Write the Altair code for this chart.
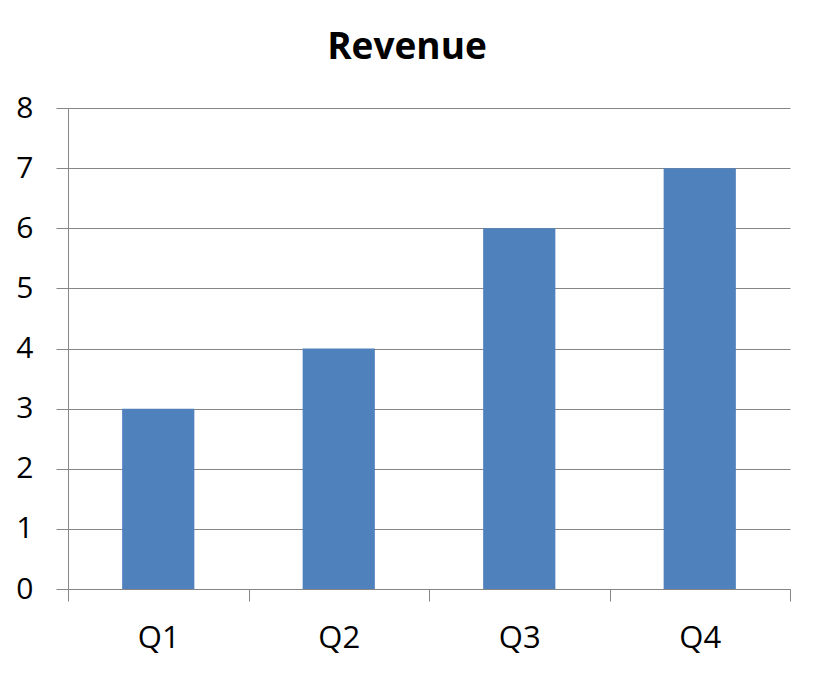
import altair as alt
import pandas as pd

quarters = ["Q1", "Q2", "Q3", "Q4"]
revenue = [3, 4, 6, 7]
y_ticks = [0, 1, 2, 3, 4, 5, 6, 7, 8]

df = pd.DataFrame({"quarter": quarters, "revenue": revenue})

LINE = "#868686"
FONT = "Open Sans"

chart = alt.Chart(df).mark_bar(color="#4F81BD", width={"band": 0.4}).encode(
    x=alt.X(
        "quarter:N", sort=quarters, title=None,
        scale=alt.Scale(paddingInner=0, paddingOuter=0),
        axis=alt.Axis(labelAngle=0, tickBand="extent", tickSize=12, tickColor=LINE,
                      domainColor=LINE, labelFont=FONT, labelFontSize=31,
                      labelColor="black", labelPadding=22, grid=False),
    ),
    y=alt.Y(
        "revenue:Q", title=None,
        scale=alt.Scale(domain=[0, 8], nice=False),
        axis=alt.Axis(values=y_ticks, tickSize=12, tickColor=LINE, domainColor=LINE,
                      gridColor=LINE, grid=True, labelFont=FONT, labelFontSize=30,
                      labelColor="black", labelPadding=23),
    ),
).properties(
    width=722, height=481,
    title=alt.Title("Revenue", fontSize=37, font=FONT, fontWeight="bold",
                    color="black", offset=26, dx=-22),
    autosize=alt.AutoSizeParams(type="none"),
    padding={"left": 60, "top": 100, "right": 16, "bottom": 76},
).configure_view(stroke=None)

chart.save("out.html", embed_options={"renderer": "svg", "actions": False})
